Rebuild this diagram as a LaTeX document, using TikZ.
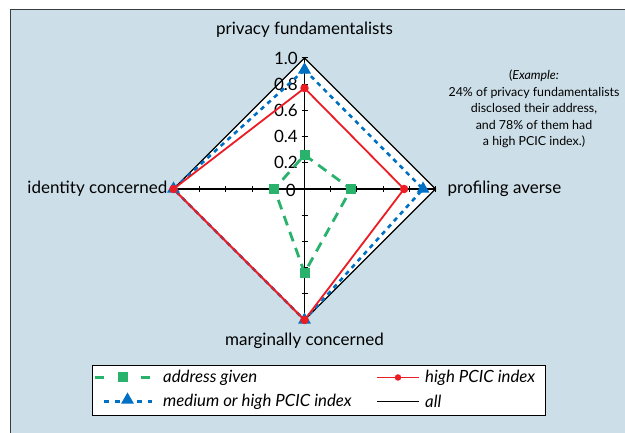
\documentclass[tikz,border=0pt]{standalone}
\usepackage{fontspec}
\setmainfont{Lato}
\usetikzlibrary{positioning,shapes.geometric}

\definecolor{framefill}{RGB}{204,222,231}
\definecolor{framedark}{RGB}{60,60,60}
\definecolor{addrgreen}{RGB}{40,178,108}
\definecolor{highred}{RGB}{236,28,36}
\definecolor{medblue}{RGB}{0,112,196}

\tikzset{
  series all/.style={draw=black, line width=1.4pt},
  series high/.style={draw=highred, line width=1.8pt},
  series med/.style={draw=medblue, line width=2.6pt, dash pattern=on 4.5pt off 4.5pt},
  series addr/.style={draw=addrgreen, line width=2.8pt, dash pattern=on 10pt off 7pt},
  sqmark/.style={rectangle, fill=addrgreen, minimum size=10pt, inner sep=0pt},
  dotmark/.style={circle, fill=highred, minimum size=8.5pt, inner sep=0pt},
  trimark/.style={regular polygon, regular polygon sides=3, fill=medblue, minimum size=15pt, inner sep=0pt},
  axislabel/.style={font=\fontsize{17}{20}\selectfont, inner sep=1pt},
  ticklabel/.style={font=\fontsize{17}{19}\selectfont, anchor=east, inner sep=0pt},
  legtext/.style={font=\fontsize{16.8}{19}\selectfont\itshape, anchor=west, inner sep=0pt},
}

\begin{document}
\begin{tikzpicture}[x=1pt, y=1pt]

\def \radius {131pt}
\def \ticklen {3pt}

\useasboundingbox (0,0) rectangle (625,433);
\clip (0,0) rectangle (625,433);

% frame
\draw[fill=framefill, draw=framedark, line width=1pt] (10,-10) rectangle (640,423);

\begin{scope}[shift={(304.5,244)}]

% series values: top, right, bottom, left
\foreach \sname/\vt/\vr/\vb/\vl in {all/1/1/1/1, med/0.91/0.905/1/1, high/0.77/0.76/1/1, addr/0.26/0.355/0.64/0.23}
{
  \coordinate (\sname-t) at (90:{\vt*\radius});
  \coordinate (\sname-r) at (0:{\vr*\radius});
  \coordinate (\sname-b) at (270:{\vb*\radius});
  \coordinate (\sname-l) at (180:{\vl*\radius});
}

\fill[white] (all-t) -- (all-r) -- (all-b) -- (all-l) -- cycle;

% axes
\draw[line width=1.1pt] (all-l) -- (all-r);
\draw[line width=1.1pt] (all-t) -- (all-b);
\foreach \k in {1,...,5}
{
  \draw[line width=1pt] ({-\ticklen},{\k*\radius/5}) -- (\ticklen,{\k*\radius/5});
  \draw[line width=1pt] ({-\ticklen},{-\k*\radius/5}) -- (\ticklen,{-\k*\radius/5});
  \draw[line width=1pt] ({\k*\radius/5},{-\ticklen}) -- ({\k*\radius/5},\ticklen);
  \draw[line width=1pt] ({-\k*\radius/5},{-\ticklen}) -- ({-\k*\radius/5},\ticklen);
}
\foreach \v/\k in {0.2/1, 0.4/2, 0.6/3, 0.8/4, 1.0/5}
  \node[ticklabel] (tick\k) at (-6.5,{\k*\radius/5}) {\v};
\node[ticklabel] (tick0) at (-8.5,-1) {0};

% series
\draw[series all] (all-t) -- (all-r) -- (all-b) -- (all-l) -- cycle;
\draw[series med] (med-t) -- (med-r) -- (med-b) -- (med-l) -- cycle;
\draw[series high] (high-t) -- (high-r) -- (high-b) -- (high-l) -- cycle;
\draw[series addr] (addr-t) -- (addr-r) -- (addr-b) -- (addr-l) -- cycle;

\foreach \p in {t,r,b,l}
{
  \node[trimark] (medm-\p) at (med-\p) {};
  \node[dotmark] (highm-\p) at (high-\p) {};
  \node[sqmark] (addrm-\p) at (addr-\p) {};
}

% axis labels
\node[axislabel, left=5pt of all-l] (lab-identity) {identity concerned};
\node[axislabel, right=11pt of all-r] (lab-profiling) {profiling averse};
\node[axislabel] (lab-privacy) at (0,159) {privacy fundamentalists};
\node[axislabel, below=12pt of all-b] (lab-marginal) {marginally concerned};

\end{scope}

% example note
\node[align=center, inner sep=0pt, font=\fontsize{12.4}{16.5}\selectfont] (example) at (534,324)
  {(\textit{Example:}\\24\% of privacy fundamentalists\\disclosed their address,\\and 78\% of them had\\a high PCIC index.)};

% legend
\node[draw=black, fill=white, line width=1pt, minimum width=453pt, minimum height=50pt, inner sep=0pt] (legend) at (318.5,42) {};

\coordinate (legaddr-a) at (95,55.5);
\coordinate (legaddr-b) at (153,55.5);
\coordinate (legmed-a) at (104,31.5);
\coordinate (legmed-b) at (152,31.5);
\coordinate (leghigh-a) at (377,55.5);
\coordinate (leghigh-b) at (419,55.5);
\coordinate (legall-a) at (377,31.5);
\coordinate (legall-b) at (419,31.5);

\draw[series addr, dash pattern=on 9pt off 14pt] (legaddr-a) -- (legaddr-b);
\node[sqmark] (legaddr-m) at (123,55.5) {};
\draw[series med, dash pattern=on 5pt off 6pt] (legmed-a) -- (legmed-b);
\node[trimark] (legmed-m) at (127.5,33) {};
\draw[series high] (leghigh-a) -- (leghigh-b);
\node[dotmark, minimum size=6.5pt] (leghigh-m) at (398,55.5) {};
\draw[series all] (legall-a) -- (legall-b);

\node[legtext] (legaddr-t) at (163,55.5) {address given};
\node[legtext] (legmed-t) at (163,31.5) {medium or high PCIC index};
\node[legtext] (leghigh-t) at (425,55.5) {high PCIC index};
\node[legtext] (legall-t) at (425,31.5) {all};

\end{tikzpicture}
\end{document}
